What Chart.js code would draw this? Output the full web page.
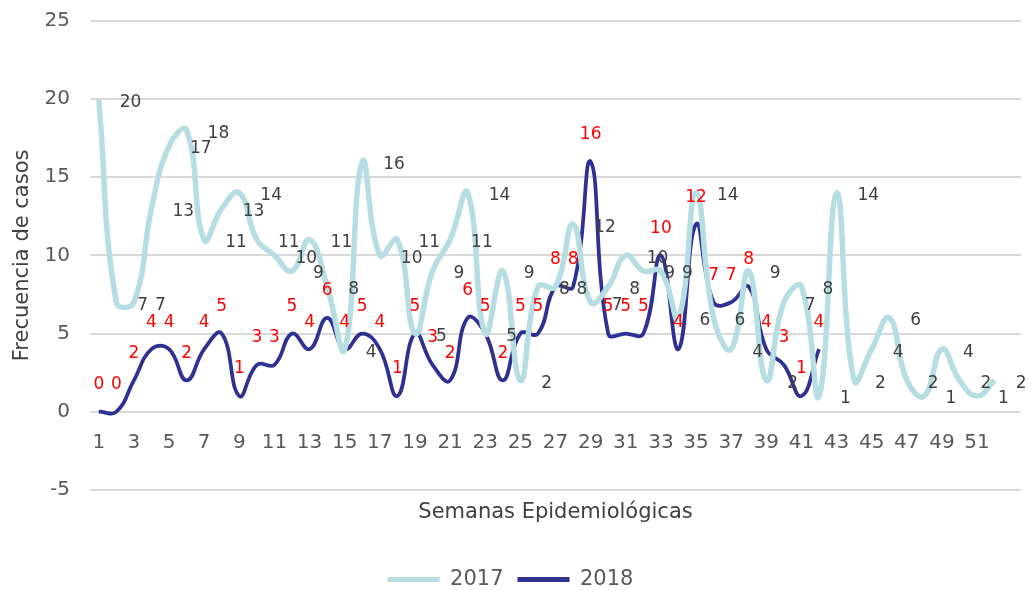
<!DOCTYPE html>
<html>
<head>
<meta charset="utf-8">
<script src="https://cdn.jsdelivr.net/npm/chart.js@4.4.1/dist/chart.umd.min.js"></script>
<style>
  html, body { margin: 0; padding: 0; background: #fff; overflow: hidden; }
  #wrap { position: relative; width: 1035px; height: 600px; }
</style>
</head>
<body>
<div id="wrap"><canvas id="grafico"></canvas></div>
<script>
// semanas epidemiologicas (la 53 va sin etiqueta)
const semanas = ['1','2','3','4','5','6','7','8','9','10','11','12','13','14','15','16','17','18','19','20',
  '21','22','23','24','25','26','27','28','29','30','31','32','33','34','35','36','37','38','39','40',
  '41','42','43','44','45','46','47','48','49','50','51','52',''];

const casos2017 = [20, 7, 7, 13, 17, 18, 11, 13, 14, 11,
  10, 9, 11, 8, 4, 16, 10, 11, 5, 9,
  11, 14, 5, 9, 2, 8, 8, 12, 7, 8,
  10, 9, 9, 6, 14, 6, 4, 9, 2, 7,
  8, 1, 14, 2, 4, 6, 2, 1, 4, 2,
  1, 2];

const casos2018 = [0, 0, 2, 4, 4, 2, 4, 5, 1, 3,
  3, 5, 4, 6, 4, 5, 4, 1, 5, 3,
  2, 6, 5, 2, 5, 5, 8, 8, 16, 5,
  5, 5, 10, 4, 12, 7, 7, 8, 4, 3,
  1, 4];

const ejeY = { min: -5, max: 25, paso: 5 };

const fuente = '"DejaVu Sans", Verdana, sans-serif';
Chart.defaults.font.family = fuente;

// etiquetas de datos: 2017 a la derecha, 2018 encima
const etiquetas = {
  id: 'etiquetas',
  afterDatasetsDraw(chart) {
    const ctx = chart.ctx;
    ctx.save();
    ctx.font = '17px ' + fuente;
    ctx.textBaseline = 'middle';
    chart.data.datasets.forEach((ds, i) => {
      const meta = chart.getDatasetMeta(i);
      meta.data.forEach((pt, j) => {
        const v = ds.data[j];
        if (v == null) return;
        if (i === 0) {
          ctx.fillStyle = '#404040';
          ctx.textAlign = 'left';
          ctx.fillText(v, pt.x + 21, pt.y + 3);
        } else {
          ctx.fillStyle = '#ff0000';
          ctx.textAlign = 'center';
          ctx.fillText(v, pt.x, pt.y - 27);
        }
      });
    });
    ctx.restore();
  }
};

new Chart(document.getElementById('grafico'), {
  type: 'line',
  data: {
    labels: semanas,
    datasets: [
      { label: '2017', data: casos2017, borderColor: '#b6dde1', backgroundColor: '#b6dde1',
        borderWidth: 5.5, tension: 0.45, pointRadius: 0 },
      { label: '2018', data: casos2018, borderColor: '#2e3192', backgroundColor: '#2e3192',
        borderWidth: 3.75, tension: 0.45, pointRadius: 0 }
    ]
  },
  options: {
    responsive: true,
    maintainAspectRatio: false,
    animation: false,
    devicePixelRatio: 1,
    layout: { padding: { top: 11, right: 14, left: 0, bottom: 0 } },
    scales: {
      x: {
        type: 'category',
        offset: true,
        position: { y: 0 },
        grid: { display: false, drawTicks: false },
        border: { display: false },
        ticks: {
          autoSkip: false, maxRotation: 0, minRotation: 0, padding: 19,
          color: '#595959', font: { size: 20 },
          callback: function(v, i) { return i % 2 === 0 ? this.getLabelForValue(v) : ''; }
        }
      },
      y: {
        min: ejeY.min, max: ejeY.max,
        ticks: { stepSize: ejeY.paso, padding: 20, color: '#595959', font: { size: 20 } },
        grid: { color: '#d9d9d9', lineWidth: 2, drawTicks: false },
        border: { display: false },
        title: { display: true, text: 'Frecuencia de casos', color: '#404040',
          font: { size: 21 }, padding: { top: 10, bottom: 0 } },
        afterFit(s) { s.width = 90; s.paddingTop = 21; }
      }
    },
    plugins: {
      title: {
        display: true, text: 'Semanas Epidemiológicas', position: 'bottom', fullSize: false,
        weight: 500, color: '#404040', font: { size: 21, weight: 'normal' },
        padding: { top: 10, bottom: 30 }
      },
      legend: {
        position: 'bottom',
        labels: {
          boxWidth: 52, boxHeight: 5, padding: 14, color: '#595959', font: { size: 21 },
          generateLabels(chart) {
            return Chart.defaults.plugins.legend.labels.generateLabels(chart)
              .map(l => Object.assign(l, { fillStyle: l.strokeStyle, lineWidth: 0 }));
          }
        }
      },
      tooltip: { enabled: false }
    }
  },
  plugins: [etiquetas]
});
</script>
</body>
</html>
